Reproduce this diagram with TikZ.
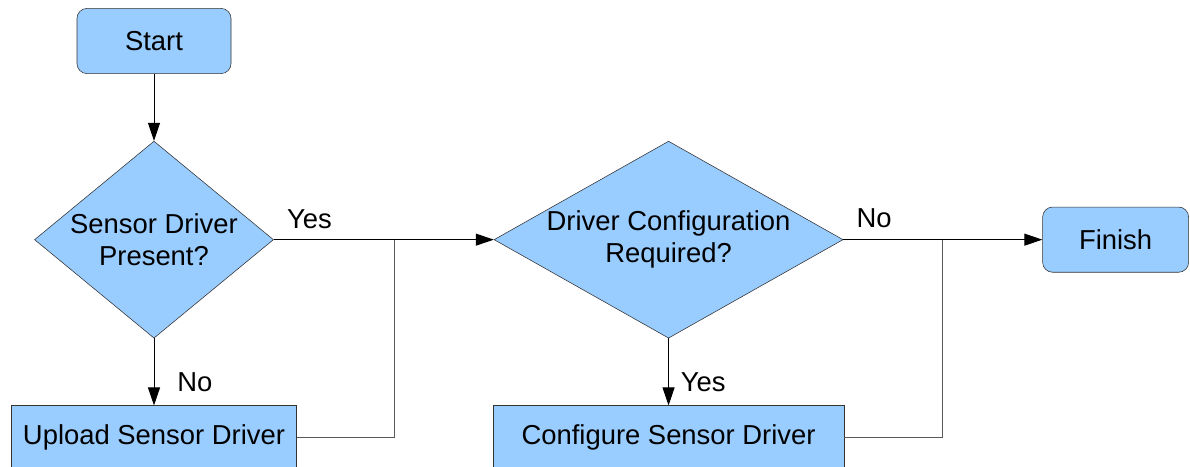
\documentclass[tikz,border=0pt]{standalone}
\usepackage{fontspec}
\setmainfont{Liberation Sans}
\usepackage{tikz}
\usetikzlibrary{
  arrows.meta,
  positioning,
  shapes.geometric,
  calc
}
\definecolor{sensorblue}{RGB}{153,204,255}
\definecolor{edge}{RGB}{51,51,51}

\begin{document}
\begin{tikzpicture}[
  font=\fontsize{19.5}{23}\selectfont,
  node distance=1.675cm and 5.5cm,
  term/.style={rectangle,rounded corners=2.5mm,draw=edge,fill=sensorblue,minimum height=1.63cm,align=center},
  decision/.style={diamond,draw=edge,fill=sensorblue,inner sep=0pt,minimum height=4.925cm,align=center},
  process/.style={rectangle,draw=edge,fill=sensorblue,minimum height=1.6cm,align=center},
  lbl/.style={inner sep=0pt,anchor=base west},
  link/.style={draw=black!65,line width=0.7pt},
  arr/.style={-{Triangle[length=4.5mm,width=3mm]},line width=0.7pt}
]
\useasboundingbox (0,0) rectangle (29.75,-11.675);
\node[term,minimum width=3.85cm] at (3.85,-1.025) (start) {Start};
\node[decision,below=of start,aspect=1.21,minimum width=5.975cm] (present) {Sensor Driver\\Present?};
\node[process,below=of present,minimum width=7.125cm] (upload) {Upload Sensor Driver};
\node[decision,right=of present,aspect=1.77,minimum width=8.725cm] (config) {Driver Configuration\\Required?};
\node[process,below=of config,minimum width=8.775cm] (configure) {Configure Sensor Driver};
\node[term,right=4.975cm of config,minimum width=3.65cm] (finish) {Finish};
% where the side paths merge back
\coordinate (yesjoin) at ($(present.east)!0.55!(config.west)$);
\coordinate (nojoin) at ($(config.east)!0.5!(finish.west)$);
\draw[arr] (start)--(present);
\draw[arr] (present)--(upload);
\draw[arr] (present.east)--(config.west);
\draw[link] (upload.east) -| (yesjoin);
\draw[arr] (config)--(configure);
\draw[arr] (config.east)--(finish.west);
\draw[link] (configure.east) -| (nojoin);
% branch labels
\node[lbl] at ($(present.east)+(0.325,0.275)$) (yes1) {Yes};
\node[lbl] at ($(present.south)+(0.575,-1.325)$) (no1) {No};
\node[lbl] at ($(config.south)+(0.3,-1.325)$) (yes2) {Yes};
\node[lbl] at ($(config.east)+(0.325,0.3)$) (no2) {No};
\end{tikzpicture}
\end{document}
